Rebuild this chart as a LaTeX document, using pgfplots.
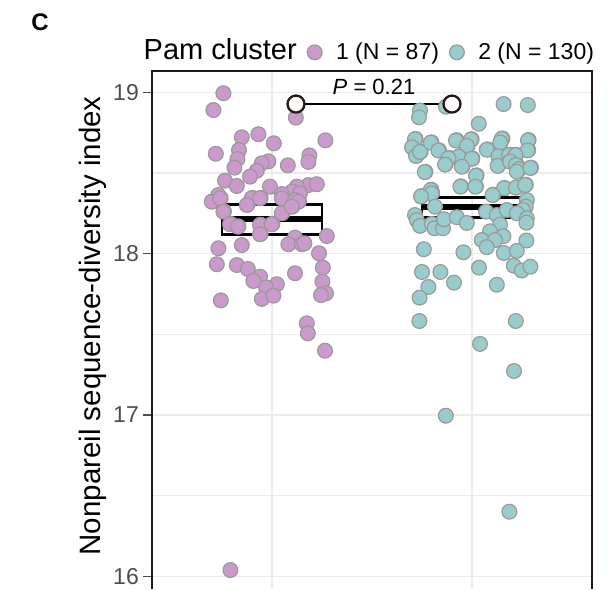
\documentclass[border=0pt]{standalone}
\usepackage{fontspec}
\setmainfont{Liberation Sans}
\usepackage{pgfplots}
\usepackage{pgfplotstable}
\pgfplotsset{compat=1.18}

\definecolor{clpurple}{HTML}{CC99CC}
\definecolor{clteal}{HTML}{99CCCC}
\definecolor{ptedge}{HTML}{9A9A9A}
\definecolor{gridgray}{HTML}{EBEBEB}
\definecolor{tickgray}{HTML}{4D4D4D}
\definecolor{framecol}{HTML}{231815}

% Pam cluster 1: jittered position, Nonpareil diversity
\pgfplotstableread{
x y
0.702 18.324
0.743 18.345
0.902 18.345
0.943 18.345
1.052 18.345
1.118 18.334
1.135 18.324
0.877 18.303
0.760 18.262
1.052 18.252
1.102 18.293
0.793 18.184
0.832 18.169
0.943 18.179
1.002 18.184
0.943 18.122
0.757 18.994
0.707 18.890
1.119 18.843
0.849 18.721
0.932 18.740
1.009 18.684
1.267 18.702
0.719 18.619
0.835 18.642
0.827 18.586
1.187 18.609
1.182 18.568
0.982 18.572
0.949 18.560
0.812 18.533
1.079 18.547
0.924 18.514
0.890 18.477
0.765 18.452
0.824 18.419
0.990 18.415
1.182 18.425
1.224 18.430
1.124 18.415
1.099 18.384
1.049 18.369
1.140 18.374
0.732 18.363
0.699 18.322
0.740 18.343
0.899 18.343
0.940 18.343
1.049 18.343
1.115 18.332
1.132 18.322
0.874 18.301
0.757 18.260
1.049 18.250
1.099 18.291
0.790 18.182
0.829 18.167
0.940 18.177
0.999 18.182
0.940 18.120
1.274 18.109
1.115 18.099
1.082 18.058
1.149 18.058
1.162 18.064
0.849 18.053
0.732 18.033
1.235 18.002
0.724 17.934
0.824 17.929
0.879 17.905
0.940 17.857
0.907 17.830
1.024 17.810
0.970 17.791
1.115 17.878
1.254 17.913
1.252 17.826
1.270 17.754
1.245 17.743
0.949 17.719
1.007 17.739
0.744 17.710
1.174 17.568
1.179 17.506
1.265 17.398
0.792 16.038
}\clusterone

% Pam cluster 2
\pgfplotstableread{
x y
1.718 18.711
1.703 18.661
1.723 18.607
1.743 18.632
1.797 18.690
1.835 18.641
1.923 18.703
1.998 18.709
1.978 18.669
2.077 18.646
2.152 18.714
2.144 18.691
2.283 18.704
2.281 18.642
1.936 18.603
1.885 18.593
2.002 18.590
2.135 18.605
2.188 18.613
2.220 18.613
1.868 18.554
1.952 18.541
2.131 18.546
2.193 18.572
2.223 18.551
2.238 18.526
2.227 18.510
2.295 18.533
1.767 18.507
2.023 18.485
1.945 18.417
2.020 18.417
1.797 18.396
1.801 18.375
2.163 18.407
2.222 18.411
2.269 18.427
1.748 18.356
2.106 18.365
1.740 18.887
1.735 18.845
1.870 18.911
2.158 18.927
2.279 18.921
2.034 18.805
1.715 18.709
1.700 18.659
1.720 18.605
1.740 18.630
1.794 18.688
1.832 18.639
1.920 18.701
1.995 18.707
1.975 18.667
2.074 18.644
2.149 18.712
2.141 18.689
2.280 18.702
2.278 18.640
1.933 18.601
1.882 18.591
1.999 18.588
2.132 18.603
2.185 18.611
2.217 18.611
1.865 18.552
1.949 18.539
2.128 18.544
2.190 18.570
2.220 18.549
2.235 18.524
2.224 18.508
2.292 18.531
1.764 18.505
2.020 18.483
1.942 18.415
2.017 18.415
1.794 18.394
1.798 18.373
2.160 18.405
2.219 18.409
2.266 18.425
1.745 18.354
2.103 18.363
2.274 18.332
2.269 18.291
2.255 18.270
1.815 18.291
1.715 18.239
1.724 18.208
1.740 18.172
1.799 18.184
1.812 18.157
1.855 18.157
1.860 18.213
1.924 18.226
1.974 18.190
2.070 18.260
2.124 18.239
2.174 18.270
2.224 18.250
2.274 18.219
2.272 18.192
2.140 18.180
2.090 18.138
2.157 18.108
2.049 18.084
2.115 18.084
2.074 18.040
2.272 18.081
1.759 18.027
1.957 18.008
2.159 18.004
2.224 18.017
2.209 17.925
2.249 17.895
2.292 17.919
2.035 17.913
1.750 17.886
1.842 17.886
1.782 17.793
1.910 17.820
2.124 17.807
1.738 17.727
1.737 17.582
2.219 17.582
2.040 17.440
2.210 17.272
1.869 16.995
2.187 16.400
}\clustertwo

\pgfplotsset{
  ptone/.style={only marks, mark=*, mark size=7.4pt,
    mark options={fill=clpurple, draw=ptedge, line width=1.2pt}},
  pttwo/.style={only marks, mark=*, mark size=7.4pt,
    mark options={fill=clteal, draw=ptedge, line width=1.2pt}},
}

\begin{document}
\begin{tikzpicture}[x=1pt,y=1pt]
\begin{axis}[
  at={(152pt,-71pt)}, anchor=north west,
  scale only axis, width=440pt, height=518pt,
  xmin=0.4, xmax=2.6, ymin=15.9206, ymax=19.132,
  clip=false,
  xtick={1,2}, xticklabels={}, xtick style={draw=none},
  ytick={16,17,18,19}, minor ytick={16.5,17.5,18.5},
  grid=both,
  major grid style={gridgray, line width=1.4pt},
  minor grid style={gridgray, line width=1.4pt},
  axis line style={draw=none},
  ytick pos=left, tick align=outside,
  major tick length=9pt, minor tick length=0pt,
  ytick style={tickgray, line width=1.3pt},
  /pgf/number format/assume math mode=true,
  yticklabel style={font=\fontsize{23}{23}\selectfont, text=tickgray, inner sep=4pt},
  ylabel={Nonpareil sequence-diversity index},
  ylabel style={font=\fontsize{29.5}{29.5}\selectfont, at={(axis description cs:-0.134,0.508)}, anchor=center},
  legend columns=-1,
  legend style={draw=none, fill=none, font=\fontsize{23}{23}\selectfont,
    at={(axis description cs:-0.058,1.036)}, anchor=west,
    nodes={text height=20pt, text depth=6pt},
    /tikz/every odd column/.append style={column sep=12pt},
    /tikz/every even column/.append style={column sep=8.5pt}},
  legend image code/.code={\draw[#1] plot coordinates {(0pt,0pt)};},
]
\addlegendimage{empty legend}
\addlegendentry{\fontsize{29}{29}\selectfont Pam cluster}
\addlegendimage{ptone}
\addlegendentry{1 (N = 87)}
\addlegendimage{pttwo}
\addlegendentry{2 (N = 130)}

\addplot[ptone, forget plot] table[x=x, y=y] {\clusterone};
\addplot[pttwo, forget plot] table[x=x, y=y] {\clustertwo};

% mean with confidence box
\addplot[forget plot, black, line width=2.7pt, line join=miter]
  coordinates {(0.75,18.118) (1.25,18.118) (1.25,18.304) (0.75,18.304)} -- cycle;
\addplot[forget plot, black, line width=6.3pt]
  coordinates {(0.75,18.213) (1.25,18.213)};
\addplot[forget plot, black, line width=2.7pt, line join=miter]
  coordinates {(1.75,18.224) (2.25,18.224) (2.25,18.349) (1.75,18.349)} -- cycle;
\addplot[forget plot, black, line width=6.3pt]
  coordinates {(1.75,18.287) (2.25,18.287)};

% significance bracket
\addplot[forget plot, black, line width=1.6pt, mark=*, mark size=8.5pt,
  mark options={fill=white, draw=framecol, line width=2.3pt}]
  coordinates {(1.12,18.927) (1.90,18.927)};
\node[font=\fontsize{22}{22}\selectfont, anchor=base, yshift=9.7pt]
  at (axis cs:1.51,18.927) {\textit{P} = 0.21};

% panel frame (open at the bottom)
\draw[framecol, line width=2pt, line join=miter]
  (rel axis cs:0,0) -- (rel axis cs:0,1) -- (rel axis cs:1,1) -- (rel axis cs:1,0);
\end{axis}
\node[font=\bfseries\fontsize{24}{24}\selectfont] at (40pt,-22pt) {C};
\pgfresetboundingbox
\path (0pt,0pt) rectangle (610pt,-589pt);
\end{tikzpicture}
\end{document}
